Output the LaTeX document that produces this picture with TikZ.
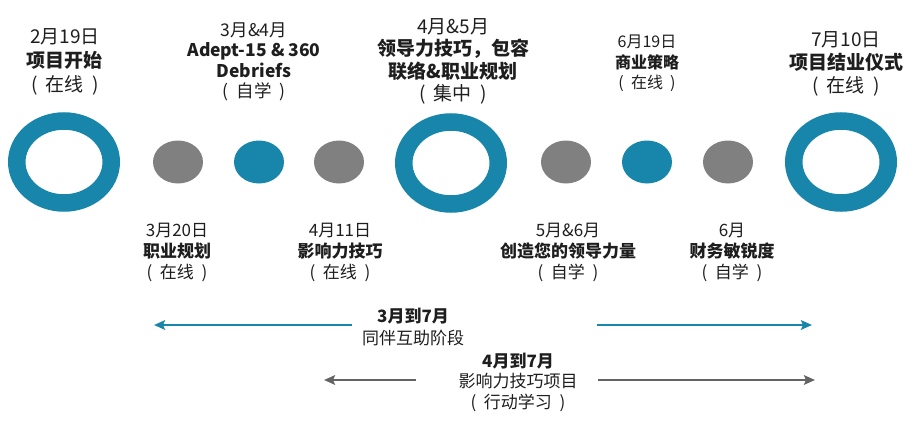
\documentclass[tikz,border=0pt]{standalone}
\usepackage{fontspec}
\setmainfont{Noto Sans CJK SC}
\usetikzlibrary{shapes.geometric,arrows.meta}
\definecolor{tealc}{RGB}{24,133,170}
\definecolor{dotgrey}{RGB}{128,128,128}
\definecolor{arrgrey}{RGB}{100,100,100}
\definecolor{txt}{RGB}{30,30,30}
\newcommand{\pp}[1]{(\hspace{0.45em}#1\hspace{0.45em})}
\tikzset{
  ring/.style={draw=tealc, line width=17.5pt, ellipse, minimum width=94.5pt, minimum height=82pt, inner sep=0pt},
  dotnode/.style={ellipse, minimum width=50pt, minimum height=43pt, inner sep=0pt},
  lbl/.style={align=center, text=txt, inner sep=0pt},
  arr/.style={line width=2.6pt, -{Stealth[length=11pt,width=9.5pt,inset=2pt]}},
}
\begin{document}
\begin{tikzpicture}[x=1pt,y=-1pt]
\useasboundingbox (0,0) rectangle (915,436);
% rings and dots
\node[ring] (r1) at (64,162) {};
\node[ring] (r2) at (451,163) {};
\node[ring] (r3) at (841,162) {};
\node[dotnode, fill=dotgrey] (d1) at (178,162) {};
\node[dotnode, fill=tealc] (d2) at (259,162) {};
\node[dotnode, fill=dotgrey] (d3) at (339,162) {};
\node[dotnode, fill=dotgrey] (d4) at (566,162) {};
\node[dotnode, fill=tealc] (d5) at (647,162) {};
\node[dotnode, fill=dotgrey] (d6) at (728,162) {};
% top labels
\node[lbl, font=\fontsize{19}{24}\selectfont] (t1) at (65,62) {2月19日\\\textbf{项目开始}\\\pp{在线}};
\node[lbl, font=\fontsize{17.5}{20.5}\selectfont] (t2) at (254,62) {3月\&4月\\\textbf{Adept-15 \& 360}\\\textbf{Debriefs}\\\pp{自学}};
\node[lbl, font=\fontsize{19}{22.3}\selectfont] (t3) at (453,61.5) {4月\&5月\\\textbf{领导力技巧，包容}\\\textbf{联络\&职业规划}\\\pp{集中}};
\node[lbl, font=\fontsize{16}{20.5}\selectfont] (t4) at (647,63.5) {6月19日\\\textbf{商业策略}\\\pp{在线}};
\node[lbl, font=\fontsize{19}{23}\selectfont] (t5) at (846,64) {7月10日\\\textbf{项目结业仪式}\\\pp{在线}};
% bottom labels
\node[lbl, font=\fontsize{17}{21}\selectfont] (b1) at (177,252) {3月20日\\\textbf{职业规划}\\\pp{在线}};
\node[lbl, font=\fontsize{17}{21}\selectfont] (b2) at (340,252) {4月11日\\\textbf{影响力技巧}\\\pp{在线}};
\node[lbl, font=\fontsize{17}{21}\selectfont] (b3) at (568,252) {5月\&6月\\\textbf{创造您的领导力量}\\\pp{自学}};
\node[lbl, font=\fontsize{17}{21}\selectfont] (b4) at (732,252) {6月\\\textbf{财务敏锐度}\\\pp{自学}};
% phase labels
\node[lbl, font=\fontsize{17}{22}\selectfont] (p1) at (413,327) {\textbf{3月到7月}\\同伴互助阶段};
\node[lbl, font=\fontsize{17}{20.5}\selectfont] (p2) at (518,382) {\textbf{4月到7月}\\影响力技巧项目\\\pp{行动学习}};
% arrow ends
\coordinate (a1s) at (352,325);
\coordinate (a1e) at (154,325);
\coordinate (a2s) at (597,325);
\coordinate (a2e) at (812,325);
\coordinate (a3s) at (416,380);
\coordinate (a3e) at (324,380);
\coordinate (a4s) at (598,380);
\coordinate (a4e) at (815,380);
\draw[arr, tealc] (a1s) -- (a1e);
\draw[arr, tealc] (a2s) -- (a2e);
\draw[arr, arrgrey] (a3s) -- (a3e);
\draw[arr, arrgrey] (a4s) -- (a4e);
\end{tikzpicture}
\end{document}
